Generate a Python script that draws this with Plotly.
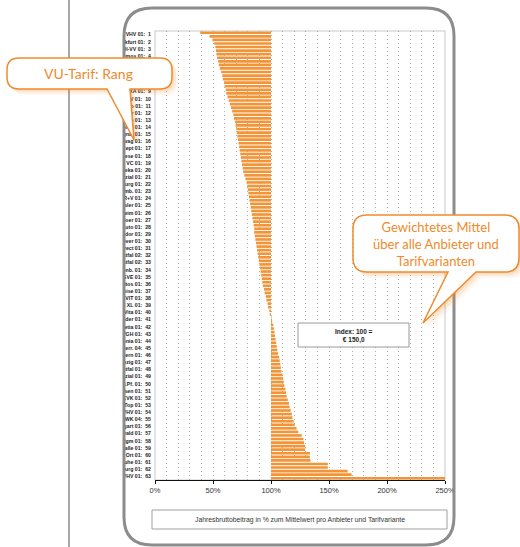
import plotly.graph_objects as go

# ---------------- data ----------------
rank_names = [
    "VHV 01", "Frankfurt 01", "HDI-VV 01", "Cosmos 01", "Allianz 01", "DA Direkt 01", "HUK24 01",
    "Europa 01", "AXA 01", "WGV 01", "Ergo 01", "Gothaer 01", "Zurich 01", "Generali 01",
    "Signal 01", "Kravag 01", "Concept 01", "Adam Riese 01", "LVM VC 01", "Debeka 01",
    "Provinzial 01", "Huk-Coburg 01", "Württemb. 01", "R+V 01", "Basler 01", "Mannheim 01",
    "Itzehoer 01", "Auto 01", "Condor 01", "Hannover 01", "Direct 01", "Westfal 02",
    "Westfal 02", "Mecklenb. 01", "SVE 01", "Janitos 01", "Baloise 01", "VIT 01", "DEVK XL 01",
    "Nürnberger Vita 01", "Ammerländer 01", "Helvetia 01", "VGH 01", "Barmenia 01",
    "Oberösterr. 04", "Bayern 01", "Neue Leipzig 01", "Westfal 01", "Provinzial 01", "Rheinl.Pf. 01",
    "Sparkassen 01", "DEVK 01", "VKB Top 01", "LVHV 01", "WWK 04", "Stuttgart 01",
    "Schwarzwald 01", "Öffentl. Bgm 01", "Halle 01", "Saarbr. Ort 01", "Karlsruhe 01",
    "Hamburg 01", "OVHV 01",
]
# ranks whose labels sit underneath the "VU-Tarif: Rang" callout (not visible)
hidden_ranks = [5, 6, 7, 8]

# Jahresbruttobeitrag in % of the weighted mean (two tariff variants per rank row, top to bottom)
index_values = [
    39, 47, 49.5, 51, 52, 52.5, 53, 53.5, 54.5, 55,
    56, 57, 58, 58.5, 59.5, 60, 61, 61.5, 62.5, 63.5,
    64.5, 65.5, 66.5, 67.5, 68, 69, 69.5, 70, 70.5, 71,
    71.5, 72, 72.5, 73, 73.5, 74, 74.5, 75, 75.5, 76,
    77, 78, 79, 79.5, 80, 80.5, 81, 81.5, 82, 82.5,
    83, 83.5, 84, 84.5, 85, 85.5, 85.5, 86, 86.5, 87,
    87.5, 88, 88.5, 89, 89.5, 90, 90.5, 91, 91.5, 92,
    92.5, 93, 94, 94.5, 95.5, 96, 97, 97.5, 98.5, 99,
    100.5, 101, 102, 102.5, 103, 103.5, 104, 104.5, 105, 105.5,
    106, 107, 107.5, 108, 108.5, 109, 110, 110.5, 111, 111.5,
    112.5, 113, 113.5, 114.5, 115.5, 116, 117, 118, 118.5, 119.5,
    120.5, 122, 123.5, 126.5, 128, 128.5, 129.5, 129.5, 133.5, 133.5,
    134, 149, 149, 166, 169.5, 250,
]
BASE = 100
x_ticks = [0, 50, 100, 150, 200, 250]
x_tick_labels = ["0%", "50%", "100%", "150%", "200%", "250%"]

# ---------------- geometry helpers ----------------
W, H = 520, 547
L, R, T, B = 155, 445, 31, 480
PW, PH = R - L, B - T


def px(x):
    return (x - L) / PW


def py(y):
    return 1 - (y - T) / PH


def path_from(points_cmds):
    out = []
    for c in points_cmds:
        if c[0] in ("M", "L"):
            out.append(f"{c[0]}{px(c[1]):.5f},{py(c[2]):.5f}")
        elif c[0] == "Q":
            out.append(f"Q{px(c[1]):.5f},{py(c[2]):.5f} {px(c[3]):.5f},{py(c[4]):.5f}")
        elif c[0] == "Z":
            out.append("Z")
    return " ".join(out)


def rounded_box(x0, y0, x1, y1, r, tail=None):
    cmds = [("M", x0 + r, y0), ("L", x1 - r, y0), ("Q", x1, y0, x1, y0 + r),
            ("L", x1, y1 - r), ("Q", x1, y1, x1 - r, y1)]
    if tail:
        (bx_right, bx_left, tx, ty) = tail
        cmds += [("L", bx_right, y1), ("L", tx, ty), ("L", bx_left, y1)]
    cmds += [("L", x0 + r, y1), ("Q", x0, y1, x0, y1 - r), ("L", x0, y0 + r),
             ("Q", x0, y0, x0 + r, y0), ("Z",)]
    return path_from(cmds)


def rect(x0, y0, x1, y1, **kw):
    return dict(type="rect", xref="paper", yref="paper", x0=px(x0), x1=px(x1),
                y0=py(y1), y1=py(y0), layer="above", **kw)


# ---------------- figure ----------------
n = len(index_values)
fig = go.Figure(go.Bar(
    orientation="h",
    y=list(range(n)),
    x=[v - BASE for v in index_values],
    base=BASE,
    marker=dict(color="#F29539", line=dict(width=0)),
    hoverinfo="skip",
))

ORANGE = "#F08A2C"
shapes = []
# plot frame (light grey)
shapes.append(dict(type="rect", xref="paper", yref="paper", x0=0, x1=1, y0=0, y1=1,
                   line=dict(color="#c9c9c9", width=1), layer="below"))
# white cover to clip the long row labels at the device frame
shapes.append(rect(71, 8, 124, 547, line=dict(width=0), fillcolor="white"))
# vertical page line
shapes.append(dict(type="line", xref="paper", yref="paper", x0=px(69), x1=px(69),
                   y0=py(0), y1=py(547), line=dict(color="#8a8a8a", width=1.5), layer="above"))
# device frame
shapes.append(dict(type="path", xref="paper", yref="paper", layer="above",
                   path=rounded_box(124, 8, 454, 545, 28),
                   line=dict(color="#8c8c8c", width=3)))
# index box
shapes.append(rect(298, 323, 409, 347, line=dict(color="#9a9a9a", width=1), fillcolor="white"))
# x-axis title box
shapes.append(rect(152, 510, 447, 529, line=dict(color="#a0a0a0", width=1), fillcolor="white"))

# callouts with soft shadows
c1 = (7, 58, 172, 89, 12, (130, 107, 134, 140))
c2 = (353, 215, 519, 272, 14, (476, 448, 423, 323))
for (x0, y0, x1, y1, r, tail) in (c1, c2):
    for off, op in ((6, 0.07), (4, 0.12), (2, 0.14)):
        t2 = (tail[0] + off, tail[1] + off, tail[2] + off, tail[3] + off)
        shapes.append(dict(type="path", xref="paper", yref="paper", layer="above",
                           path=rounded_box(x0 + off, y0 + off, x1 + off, y1 + off, r, t2),
                           line=dict(width=0), fillcolor=f"rgba(240,140,50,{op})"))
    shapes.append(dict(type="path", xref="paper", yref="paper", layer="above",
                       path=rounded_box(x0, y0, x1, y1, r, tail),
                       line=dict(color=ORANGE, width=1.5), fillcolor="white"))

annotations = [
    dict(xref="paper", yref="paper", x=px(88), y=py(73.5), text="VU-Tarif: Rang",
         showarrow=False, font=dict(family="Lato", size=14, color=ORANGE),
         xanchor="center", yanchor="middle"),
    dict(xref="paper", yref="paper", x=px(436), y=py(243.5),
         text="Gewichtetes Mittel<br>über alle Anbieter und<br>Tarifvarianten",
         showarrow=False, font=dict(family="Lato", size=13, color=ORANGE),
         xanchor="center", yanchor="middle"),
    dict(xref="paper", yref="paper", x=px(353.5), y=py(335.5),
         text="<b>Index: 100 =</b><br><b>€ 150,0</b>", showarrow=False,
         font=dict(family="Liberation Sans", size=6.5, color="#222"),
         xanchor="center", yanchor="middle"),
    dict(xref="paper", yref="paper", x=px(299.5), y=py(519.5),
         text="Jahresbruttobeitrag in % zum Mittelwert pro Anbieter und Tarifvariante",
         showarrow=False, font=dict(family="Liberation Sans", size=6.8, color="#333"),
         xanchor="center", yanchor="middle"),
]

row_tickvals = [2 * i + 0.5 for i in range(len(rank_names))]
row_ticktext = ["" if (i + 1) in hidden_ranks else f"{nm}:  {i + 1}"
                for i, nm in enumerate(rank_names)]

fig.update_layout(
    width=W, height=H,
    margin=dict(l=L, r=W - R, t=T, b=H - B, pad=0),
    paper_bgcolor="white", plot_bgcolor="white",
    showlegend=False, bargap=0.25,
    shapes=shapes, annotations=annotations,
    xaxis=dict(range=[0, 250], tickvals=x_ticks, ticktext=x_tick_labels,
               showgrid=True, gridcolor="#b0b0b0", gridwidth=1, griddash="1px,3px",
               minor=dict(dtick=10, showgrid=True, gridcolor="#b0b0b0", gridwidth=1,
                          griddash="1px,3px"),
               showline=True, linecolor="#111", linewidth=1.2,
               ticks="outside", ticklen=3, tickcolor="#111", tickwidth=1,
               tickfont=dict(family="Liberation Sans", size=7.5, color="#333"),
               zeroline=False, fixedrange=True),
    yaxis=dict(range=[n - 0.5, -0.5], tickvals=row_tickvals, ticktext=row_ticktext,
               showgrid=False, zeroline=False, showline=False, ticks="",
               ticklabelstandoff=3,
               tickfont=dict(family="Liberation Sans", size=5.2, color="#222", weight="bold"),
               fixedrange=True),
)

fig.write_html("out.html", config={"displayModeBar": False, "staticPlot": True},
               post_script="document.body.style.margin='0px';"
               "document.body.style.overflow='hidden';")
